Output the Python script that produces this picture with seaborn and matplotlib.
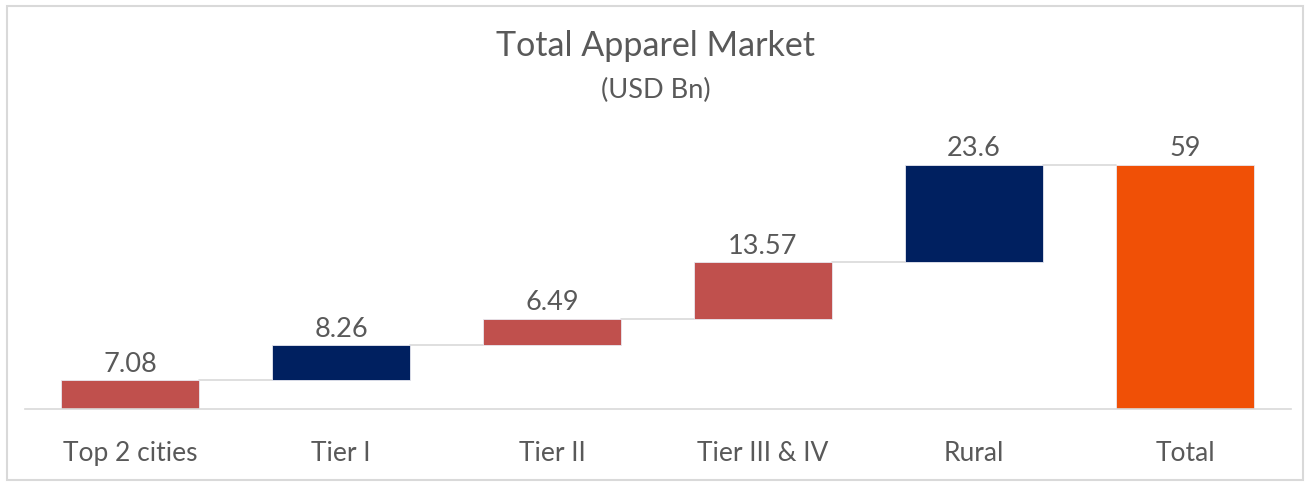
import matplotlib
matplotlib.use("Agg")
import matplotlib.pyplot as plt
from matplotlib.patches import Rectangle
import seaborn as sns

categories = ["Top 2 cities", "Tier I", "Tier II", "Tier III & IV", "Rural", "Total"]
values = [7.08, 8.26, 6.49, 13.57, 23.6, 59]
labels = ["7.08", "8.26", "6.49", "13.57", "23.6", "59"]
bar_colors = ["#C0504D", "#002060", "#C0504D", "#C0504D", "#002060", "#F05006"]

# waterfall bases: running sum of the pieces, total starts at zero
bases = []
run = 0
for v in values[:-1]:
    bases.append(run)
    run += v
bases.append(0)
tops = [b + v for b, v in zip(bases, values)]

sns.set_style("white")
plt.rcParams["font.family"] = ["Lato", "DejaVu Sans"]
txt = "#595959"

fig = plt.figure(figsize=(13.11, 4.85), dpi=100)
ax = fig.add_axes([0.0187, 0.1546, 0.9657, 0.598])

sns.barplot(x=categories, y=values, bottom=bases, width=0.655, color="#C0504D",
            edgecolor="#e8e8f0", linewidth=0.6, ax=ax)
for p, c in zip(ax.patches, bar_colors):
    p.set_facecolor(c)

# connector lines between bars
w = 0.655 / 2
for i in range(len(values) - 1):
    ax.plot([i + w, i + 1 - w], [tops[i], tops[i]], color="#d9d9d9", lw=1.2, zorder=0)

for i, (t, lab) in enumerate(zip(tops, labels)):
    ax.text(i, t + 1.0, lab, ha="center", va="bottom", fontsize=19.5, color=txt)

ax.set_ylim(0, 70)
ax.set_xlim(-0.5, len(categories) - 0.5)
ax.set_xlabel("")
ax.set_ylabel("")
ax.set_yticks([])
for s in ["top", "left", "right"]:
    ax.spines[s].set_visible(False)
ax.spines["bottom"].set_color("#d9d9d9")
ax.spines["bottom"].set_linewidth(1.2)
ax.tick_params(axis="x", length=0, pad=22, labelsize=19, labelcolor=txt)

fig.text(0.5, 0.905, "Total Apparel Market", ha="center", va="center", fontsize=24.5, color=txt)
fig.text(0.5, 0.814, "(USD Bn)", ha="center", va="center", fontsize=19.5, color=txt)

fig.patches.append(Rectangle((7 / 1311, 4 / 485), 1296 / 1311, 474 / 485,
                             transform=fig.transFigure, fill=False,
                             edgecolor="#d9d9d9", linewidth=1.5))

fig.savefig("out.png", dpi=100)
